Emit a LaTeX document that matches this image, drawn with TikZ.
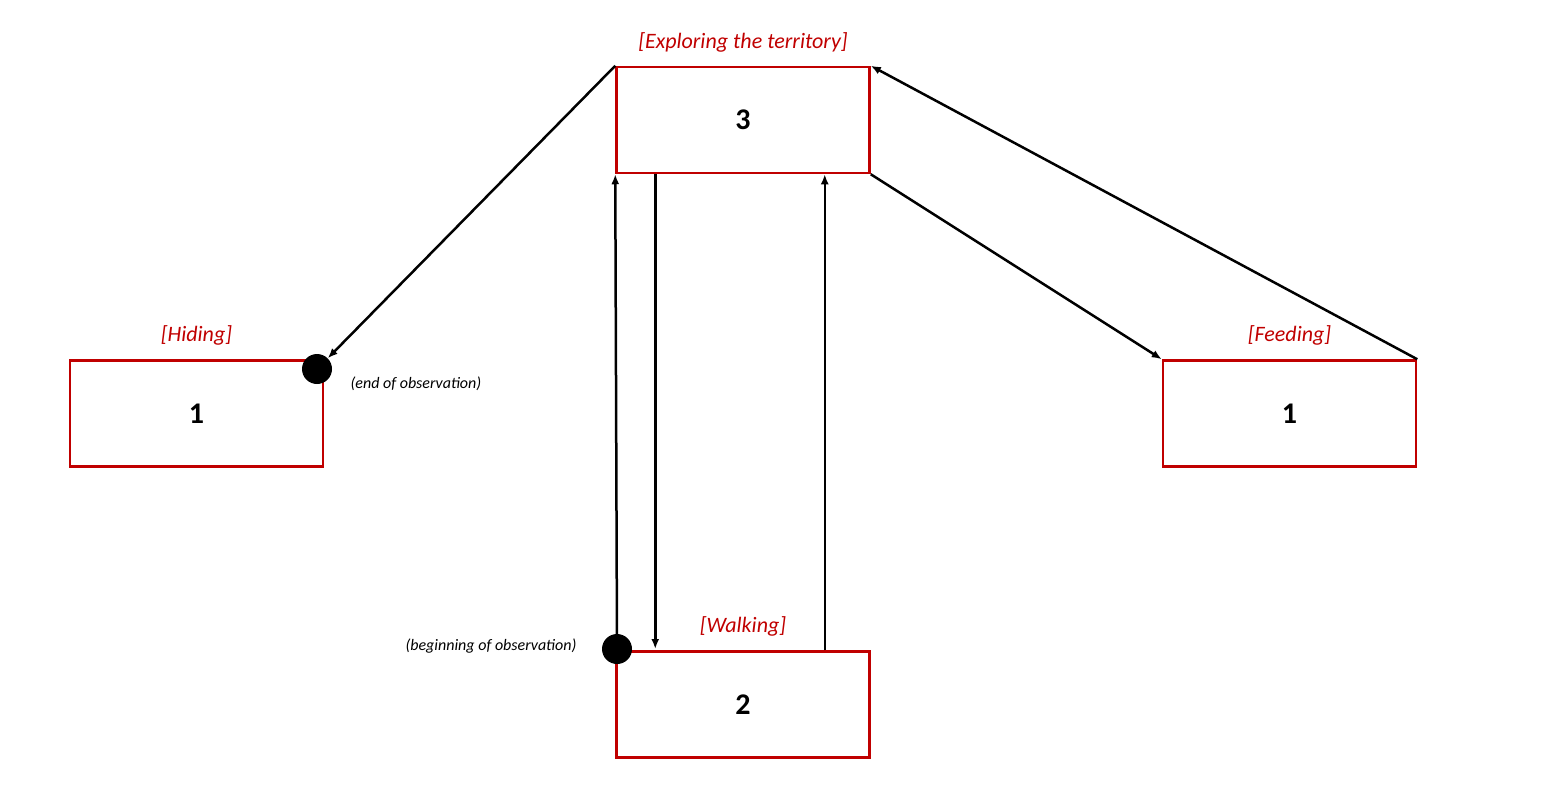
\documentclass[tikz,border=0pt]{standalone}
\usepackage{fontspec}
\setmainfont{Carlito}
\usetikzlibrary{arrows.meta,positioning}
\definecolor{boxred}{RGB}{192,0,0}
\tikzset{
  statebox/.style={draw=boxred,line width=2.5pt,minimum width=253pt,minimum height=106pt,inner sep=0pt,font=\fontsize{30}{34}\selectfont\bfseries},
  statelabel/.style={text=boxred,font=\fontsize{22}{26}\selectfont\itshape},
  notelabel/.style={font=\fontsize{16}{19}\selectfont\itshape},
  dot/.style={circle,fill=black,minimum size=30pt,inner sep=0pt},
  trans/.style={line width=2.5pt,-{Latex[length=10pt,width=8pt]}}
}
\begin{document}
\begin{tikzpicture}[x=1pt,y=-1pt]
\useasboundingbox (0,0) rectangle (1562,798);

\node [statebox] (explore) at (743,120) {3};
\node [statelabel,anchor=south] (explore-l) at ([yshift=10pt]explore.north) {[Exploring the territory]};

\node [statebox] (hide) at (196.5,413.5) {1};
\node [statelabel,anchor=south] (hide-l) at ([yshift=10pt]hide.north) {[Hiding]};

\node [statebox] (feed) at (1289.5,413.5) {1};
\node [statelabel,anchor=south] (feed-l) at ([yshift=10pt]feed.north) {[Feeding]};

\node [statebox] (walk) at (743,704.5) {2};
\node [statelabel,anchor=south] (walk-l) at ([yshift=10pt]walk.north) {[Walking]};
%%%%%%%%%%%%%%%%%%%%%%%%%%
\node [dot] (end) at (317,369) {};
\node [notelabel,anchor=west] (end-l) at (347,384) {(end of observation)};
\node [dot] (begin) at (617,649) {};
\node [notelabel,anchor=east] (begin-l) at (580,646) {(beginning of observation)};
%%%%%%%%%%%%%%%%%%%%%%%%%%
\draw [trans] (explore.north west) -- (end.north east);
\draw [trans] (begin.center) -- (explore.south west);
\draw [trans] ([xshift=40pt]explore.south west) -- ([xshift=40pt]walk.north west |- begin.center);
\draw [trans] ([xshift=-46pt]walk.north east) -- ([xshift=-46pt]explore.south east);
\draw [trans] (explore.south east) -- (feed.north west);
\draw [trans] (feed.north east) -- (explore.north east);
\end{tikzpicture}
\end{document}
